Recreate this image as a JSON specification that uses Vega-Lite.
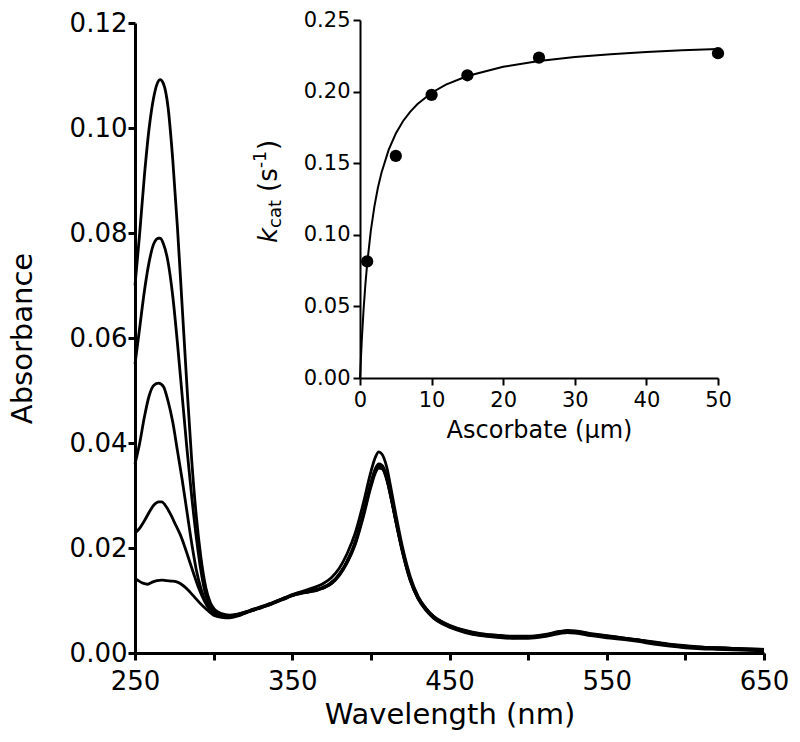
{
"$schema": "https://vega.github.io/schema/vega-lite/v6.json",
"autosize": "none",
"width": 629,
"height": 630,
"padding": {"left": 135, "top": 23, "right": 36, "bottom": 89},
"background": "white",
"config": {
  "view": {"stroke": null},
  "font": "DejaVu Sans",
  "axis": {"grid": false, "domainColor": "black", "tickColor": "black", "labelColor": "black", "titleColor": "black", "titleFontWeight": "normal", "labelFont": "DejaVu Sans", "titleFont": "DejaVu Sans", "labelFlush": false, "labelOverlap": false}
},
"datasets": {
  "spectra": [
    {"s":1,"w":250,"a":0.070},{"s":1,"w":253,"a":0.080},{"s":1,"w":256,"a":0.091},{"s":1,"w":259,"a":0.100},{"s":1,"w":262,"a":0.106},{"s":1,"w":265,"a":0.109},{"s":1,"w":266,"a":0.1092},{"s":1,"w":268,"a":0.1085},{"s":1,"w":271,"a":0.104},{"s":1,"w":274,"a":0.094},{"s":1,"w":277,"a":0.081},{"s":1,"w":280,"a":0.066},{"s":1,"w":283,"a":0.051},{"s":1,"w":286,"a":0.037},{"s":1,"w":289,"a":0.026},{"s":1,"w":292,"a":0.018},{"s":1,"w":295,"a":0.0125},{"s":1,"w":298,"a":0.0095},{"s":1,"w":301,"a":0.0082},{"s":1,"w":305,"a":0.0075},{"s":1,"w":310,"a":0.0072},{"s":1,"w":315,"a":0.0074},
    {"s":1,"w":320,"a":0.0078},{"s":1,"w":325,"a":0.0083},{"s":1,"w":330,"a":0.0088},{"s":1,"w":335,"a":0.0093},{"s":1,"w":340,"a":0.0099},{"s":1,"w":345,"a":0.0105},{"s":1,"w":350,"a":0.0111},{"s":1,"w":355,"a":0.0116},{"s":1,"w":360,"a":0.0121},{"s":1,"w":365,"a":0.0126},{"s":1,"w":370,"a":0.0133},{"s":1,"w":375,"a":0.0144},{"s":1,"w":380,"a":0.0162},{"s":1,"w":385,"a":0.0190},{"s":1,"w":390,"a":0.0228},{"s":1,"w":395,"a":0.0283},{"s":1,"w":400,"a":0.0345},{"s":1,"w":403,"a":0.0374},{"s":1,"w":405,"a":0.0383},{"s":1,"w":407,"a":0.0379},{"s":1,"w":410,"a":0.0355},{"s":1,"w":413,"a":0.0310},{"s":1,"w":416,"a":0.0262},{"s":1,"w":420,"a":0.0203},{"s":1,"w":425,"a":0.0146},{"s":1,"w":430,"a":0.0108},{"s":1,"w":435,"a":0.0085},{"s":1,"w":440,"a":0.0069},{"s":1,"w":445,"a":0.0059},{"s":1,"w":450,"a":0.0052},{"s":1,"w":460,"a":0.0042},{"s":1,"w":470,"a":0.0036},{"s":1,"w":480,"a":0.0033},{"s":1,"w":490,"a":0.0031},{"s":1,"w":500,"a":0.0031},{"s":1,"w":510,"a":0.0034},{"s":1,"w":520,"a":0.0040},{"s":1,"w":525,"a":0.0042},{"s":1,"w":530,"a":0.0041},{"s":1,"w":540,"a":0.0036},{"s":1,"w":550,"a":0.0032},{"s":1,"w":560,"a":0.0029},{"s":1,"w":570,"a":0.0025},{"s":1,"w":580,"a":0.0020},{"s":1,"w":590,"a":0.0016},{"s":1,"w":600,"a":0.0013},{"s":1,"w":610,"a":0.0011},{"s":1,"w":620,"a":0.0010},{"s":1,"w":630,"a":0.0009},{"s":1,"w":640,"a":0.0008},{"s":1,"w":650,"a":0.0007},

    {"s":2,"w":250,"a":0.055},{"s":2,"w":253,"a":0.062},{"s":2,"w":256,"a":0.069},{"s":2,"w":259,"a":0.0745},{"s":2,"w":262,"a":0.078},{"s":2,"w":265,"a":0.079},{"s":2,"w":266,"a":0.079},{"s":2,"w":268,"a":0.078},{"s":2,"w":271,"a":0.0745},{"s":2,"w":274,"a":0.068},{"s":2,"w":277,"a":0.059},{"s":2,"w":280,"a":0.049},{"s":2,"w":283,"a":0.039},{"s":2,"w":286,"a":0.030},{"s":2,"w":289,"a":0.022},{"s":2,"w":292,"a":0.0155},{"s":2,"w":295,"a":0.011},{"s":2,"w":298,"a":0.0088},{"s":2,"w":301,"a":0.0078},{"s":2,"w":305,"a":0.0073},{"s":2,"w":310,"a":0.0071},{"s":2,"w":315,"a":0.0073},
    {"s":2,"w":320,"a":0.0078},{"s":2,"w":325,"a":0.0081},{"s":2,"w":330,"a":0.0088},{"s":2,"w":335,"a":0.0091},{"s":2,"w":340,"a":0.0099},{"s":2,"w":345,"a":0.0103},{"s":2,"w":350,"a":0.0111},{"s":2,"w":355,"a":0.0113},{"s":2,"w":360,"a":0.0118},{"s":2,"w":365,"a":0.0119},{"s":2,"w":370,"a":0.0126},{"s":2,"w":375,"a":0.0133},{"s":2,"w":380,"a":0.0151},{"s":2,"w":385,"a":0.0174},{"s":2,"w":390,"a":0.0211},{"s":2,"w":395,"a":0.0261},{"s":2,"w":400,"a":0.0324},{"s":2,"w":403,"a":0.0352},{"s":2,"w":405,"a":0.0360},{"s":2,"w":407,"a":0.0358},{"s":2,"w":410,"a":0.0337},{"s":2,"w":413,"a":0.0297},{"s":2,"w":416,"a":0.0252},{"s":2,"w":420,"a":0.0197},{"s":2,"w":425,"a":0.0142},{"s":2,"w":430,"a":0.0107},{"s":2,"w":435,"a":0.0085},{"s":2,"w":440,"a":0.0070},{"s":2,"w":445,"a":0.0060},{"s":2,"w":450,"a":0.0053},{"s":2,"w":460,"a":0.0043},{"s":2,"w":470,"a":0.0037},{"s":2,"w":480,"a":0.0034},{"s":2,"w":490,"a":0.0032},{"s":2,"w":500,"a":0.0032},{"s":2,"w":510,"a":0.0035},{"s":2,"w":520,"a":0.0041},{"s":2,"w":525,"a":0.0043},{"s":2,"w":530,"a":0.0042},{"s":2,"w":540,"a":0.0037},{"s":2,"w":550,"a":0.0033},{"s":2,"w":560,"a":0.0029},{"s":2,"w":570,"a":0.0025},{"s":2,"w":580,"a":0.0021},{"s":2,"w":590,"a":0.0017},{"s":2,"w":600,"a":0.0014},{"s":2,"w":610,"a":0.0011},{"s":2,"w":620,"a":0.0010},{"s":2,"w":630,"a":0.0009},{"s":2,"w":640,"a":0.0008},{"s":2,"w":650,"a":0.0007},

    {"s":3,"w":250,"a":0.036},{"s":3,"w":253,"a":0.040},{"s":3,"w":256,"a":0.045},{"s":3,"w":259,"a":0.049},{"s":3,"w":262,"a":0.051},{"s":3,"w":265,"a":0.0514},{"s":3,"w":268,"a":0.0508},{"s":3,"w":271,"a":0.048},{"s":3,"w":274,"a":0.044},{"s":3,"w":277,"a":0.0385},{"s":3,"w":280,"a":0.033},{"s":3,"w":283,"a":0.027},{"s":3,"w":286,"a":0.021},{"s":3,"w":289,"a":0.0158},{"s":3,"w":292,"a":0.0122},{"s":3,"w":295,"a":0.0097},{"s":3,"w":298,"a":0.0083},{"s":3,"w":301,"a":0.0075},{"s":3,"w":305,"a":0.0071},{"s":3,"w":310,"a":0.0070},{"s":3,"w":315,"a":0.0072},
    {"s":3,"w":320,"a":0.0077},{"s":3,"w":325,"a":0.0082},{"s":3,"w":330,"a":0.0087},{"s":3,"w":335,"a":0.0092},{"s":3,"w":340,"a":0.0098},{"s":3,"w":345,"a":0.0104},{"s":3,"w":350,"a":0.0110},{"s":3,"w":355,"a":0.0114},{"s":3,"w":360,"a":0.0117},{"s":3,"w":365,"a":0.0120},{"s":3,"w":370,"a":0.0125},{"s":3,"w":375,"a":0.0134},{"s":3,"w":380,"a":0.0150},{"s":3,"w":385,"a":0.0175},{"s":3,"w":390,"a":0.0210},{"s":3,"w":395,"a":0.0262},{"s":3,"w":400,"a":0.0322},{"s":3,"w":403,"a":0.0350},{"s":3,"w":405,"a":0.0358},{"s":3,"w":407,"a":0.0356},{"s":3,"w":410,"a":0.0335},{"s":3,"w":413,"a":0.0295},{"s":3,"w":416,"a":0.0250},{"s":3,"w":420,"a":0.0195},{"s":3,"w":425,"a":0.0140},{"s":3,"w":430,"a":0.0105},{"s":3,"w":435,"a":0.0083},{"s":3,"w":440,"a":0.0068},{"s":3,"w":445,"a":0.0058},{"s":3,"w":450,"a":0.0051},{"s":3,"w":460,"a":0.0041},{"s":3,"w":470,"a":0.0035},{"s":3,"w":480,"a":0.0032},{"s":3,"w":490,"a":0.0030},{"s":3,"w":500,"a":0.0030},{"s":3,"w":510,"a":0.0033},{"s":3,"w":520,"a":0.0039},{"s":3,"w":525,"a":0.0041},{"s":3,"w":530,"a":0.0040},{"s":3,"w":540,"a":0.0035},{"s":3,"w":550,"a":0.0031},{"s":3,"w":560,"a":0.0028},{"s":3,"w":570,"a":0.0024},{"s":3,"w":580,"a":0.0019},{"s":3,"w":590,"a":0.0015},{"s":3,"w":600,"a":0.0012},{"s":3,"w":610,"a":0.0010},{"s":3,"w":620,"a":0.0009},{"s":3,"w":630,"a":0.0008},{"s":3,"w":640,"a":0.0007},{"s":3,"w":650,"a":0.0006},

    {"s":4,"w":250,"a":0.0228},{"s":4,"w":253,"a":0.0238},{"s":4,"w":256,"a":0.0252},{"s":4,"w":259,"a":0.0268},{"s":4,"w":262,"a":0.0282},{"s":4,"w":265,"a":0.0288},{"s":4,"w":267,"a":0.0288},{"s":4,"w":270,"a":0.0278},{"s":4,"w":273,"a":0.0262},{"s":4,"w":276,"a":0.0243},{"s":4,"w":279,"a":0.0224},{"s":4,"w":282,"a":0.0199},{"s":4,"w":285,"a":0.0172},{"s":4,"w":288,"a":0.0145},{"s":4,"w":291,"a":0.0120},{"s":4,"w":294,"a":0.0100},{"s":4,"w":297,"a":0.0085},{"s":4,"w":300,"a":0.0076},{"s":4,"w":305,"a":0.0070},{"s":4,"w":310,"a":0.0069},{"s":4,"w":315,"a":0.0071},
    {"s":4,"w":320,"a":0.0076},{"s":4,"w":325,"a":0.0081},{"s":4,"w":330,"a":0.0086},{"s":4,"w":335,"a":0.0091},{"s":4,"w":340,"a":0.0097},{"s":4,"w":345,"a":0.0103},{"s":4,"w":350,"a":0.0109},{"s":4,"w":355,"a":0.0113},{"s":4,"w":360,"a":0.0116},{"s":4,"w":365,"a":0.0119},{"s":4,"w":370,"a":0.0124},{"s":4,"w":375,"a":0.0132},{"s":4,"w":380,"a":0.0148},{"s":4,"w":385,"a":0.0172},{"s":4,"w":390,"a":0.0206},{"s":4,"w":395,"a":0.0257},{"s":4,"w":400,"a":0.0316},{"s":4,"w":403,"a":0.0344},{"s":4,"w":405,"a":0.0352},{"s":4,"w":407,"a":0.0351},{"s":4,"w":410,"a":0.0331},{"s":4,"w":413,"a":0.0292},{"s":4,"w":416,"a":0.0248},{"s":4,"w":420,"a":0.0193},{"s":4,"w":425,"a":0.0138},{"s":4,"w":430,"a":0.0103},{"s":4,"w":435,"a":0.0081},{"s":4,"w":440,"a":0.0066},{"s":4,"w":445,"a":0.0056},{"s":4,"w":450,"a":0.0049},{"s":4,"w":460,"a":0.0039},{"s":4,"w":470,"a":0.0033},{"s":4,"w":480,"a":0.0030},{"s":4,"w":490,"a":0.0028},{"s":4,"w":500,"a":0.0028},{"s":4,"w":510,"a":0.0031},{"s":4,"w":520,"a":0.0037},{"s":4,"w":525,"a":0.0039},{"s":4,"w":530,"a":0.0038},{"s":4,"w":540,"a":0.0033},{"s":4,"w":550,"a":0.0029},{"s":4,"w":560,"a":0.0026},{"s":4,"w":570,"a":0.0022},{"s":4,"w":580,"a":0.0017},{"s":4,"w":590,"a":0.0013},{"s":4,"w":600,"a":0.0010},{"s":4,"w":610,"a":0.0008},{"s":4,"w":620,"a":0.0007},{"s":4,"w":630,"a":0.0006},{"s":4,"w":640,"a":0.0005},{"s":4,"w":650,"a":0.0004},

    {"s":5,"w":250,"a":0.0142},{"s":5,"w":252,"a":0.0138},{"s":5,"w":255,"a":0.0133},{"s":5,"w":258,"a":0.0131},{"s":5,"w":261,"a":0.0135},{"s":5,"w":264,"a":0.0138},{"s":5,"w":267,"a":0.0139},{"s":5,"w":270,"a":0.0138},{"s":5,"w":273,"a":0.0137},{"s":5,"w":276,"a":0.0136},{"s":5,"w":279,"a":0.0132},{"s":5,"w":282,"a":0.0125},{"s":5,"w":285,"a":0.0116},{"s":5,"w":288,"a":0.0106},{"s":5,"w":291,"a":0.0096},{"s":5,"w":294,"a":0.0087},{"s":5,"w":297,"a":0.0079},{"s":5,"w":300,"a":0.0072},{"s":5,"w":305,"a":0.0068},{"s":5,"w":310,"a":0.0067},{"s":5,"w":315,"a":0.0070},
    {"s":5,"w":320,"a":0.0076},{"s":5,"w":325,"a":0.0083},{"s":5,"w":330,"a":0.0086},{"s":5,"w":335,"a":0.0093},{"s":5,"w":340,"a":0.0097},{"s":5,"w":345,"a":0.0105},{"s":5,"w":350,"a":0.0109},{"s":5,"w":355,"a":0.0115},{"s":5,"w":360,"a":0.0116},{"s":5,"w":365,"a":0.0121},{"s":5,"w":370,"a":0.0124},{"s":5,"w":375,"a":0.0135},{"s":5,"w":380,"a":0.0149},{"s":5,"w":385,"a":0.0176},{"s":5,"w":390,"a":0.0209},{"s":5,"w":395,"a":0.0263},{"s":5,"w":400,"a":0.0320},{"s":5,"w":403,"a":0.0348},{"s":5,"w":405,"a":0.0356},{"s":5,"w":407,"a":0.0354},{"s":5,"w":410,"a":0.0333},{"s":5,"w":413,"a":0.0294},{"s":5,"w":416,"a":0.0251},{"s":5,"w":420,"a":0.0196},{"s":5,"w":425,"a":0.0141},{"s":5,"w":430,"a":0.0104},{"s":5,"w":435,"a":0.0084},{"s":5,"w":440,"a":0.0067},{"s":5,"w":445,"a":0.0059},{"s":5,"w":450,"a":0.0050},{"s":5,"w":460,"a":0.0042},{"s":5,"w":470,"a":0.0034},{"s":5,"w":480,"a":0.0033},{"s":5,"w":490,"a":0.0029},{"s":5,"w":500,"a":0.0031},{"s":5,"w":510,"a":0.0032},{"s":5,"w":520,"a":0.0040},{"s":5,"w":525,"a":0.0040},{"s":5,"w":530,"a":0.0041},{"s":5,"w":540,"a":0.0034},{"s":5,"w":550,"a":0.0032},{"s":5,"w":560,"a":0.0027},{"s":5,"w":570,"a":0.0025},{"s":5,"w":580,"a":0.0018},{"s":5,"w":590,"a":0.0016},{"s":5,"w":600,"a":0.0011},{"s":5,"w":610,"a":0.0011},{"s":5,"w":620,"a":0.0008},{"s":5,"w":630,"a":0.0009},{"s":5,"w":640,"a":0.0006},{"s":5,"w":650,"a":0.0007}
  ],
  "kinetics": [
    {"S":1,"v":0.0814},{"S":5,"v":0.1551},{"S":10,"v":0.1977},{"S":15,"v":0.2114},{"S":25,"v":0.2237},{"S":50,"v":0.2268}
  ],
  "fit": [
    {"S":0,"v":0},{"S":0.25,"v":0.0266},{"S":0.5,"v":0.0478},{"S":0.75,"v":0.0652},{"S":1,"v":0.0797},{"S":1.5,"v":0.1024},{"S":2,"v":0.1195},{"S":2.5,"v":0.1328},{"S":3,"v":0.1434},{"S":4,"v":0.1593},{"S":5,"v":0.1707},{"S":6,"v":0.1793},{"S":7,"v":0.1859},{"S":8,"v":0.1912},{"S":10,"v":0.1992},{"S":12,"v":0.2049},{"S":15,"v":0.2109},{"S":20,"v":0.2173},{"S":25,"v":0.2213},{"S":30,"v":0.2241},{"S":35,"v":0.2261},{"S":40,"v":0.2276},{"S":45,"v":0.2288},{"S":50,"v":0.2298}
  ],
  "one": [{"k": 1}]
},
"layer": [
  {
    "data": {"name": "spectra"},
    "mark": {"type": "line", "color": "black", "strokeWidth": 2.8, "interpolate": "monotone"},
    "encoding": {
      "x": {"field": "w", "type": "quantitative",
        "scale": {"domain": [250, 650], "nice": false, "zero": false},
        "axis": {"orient": "bottom", "values": [250, 300, 350, 400, 450, 500, 550, 600, 650],
          "labelExpr": "datum.value % 100 == 50 ? datum.label : ''",
          "title": "Wavelength (nm)", "titleFontSize": 29, "titlePadding": 6,
          "labelFontSize": 26, "labelPadding": 8, "tickSize": 7, "tickWidth": 3, "domainWidth": 3}},
      "y": {"field": "a", "type": "quantitative",
        "scale": {"domain": [0, 0.12], "nice": false},
        "axis": {"orient": "left", "values": [0, 0.02, 0.04, 0.06, 0.08, 0.1, 0.12], "format": ".2f",
          "title": "Absorbance", "titleFontSize": 29, "titlePadding": 32,
          "labelFontSize": 26, "labelPadding": 1, "tickSize": 7, "tickWidth": 3, "domainWidth": 3}},
      "detail": {"field": "s", "type": "nominal"}
    }
  },
  {
    "data": {"name": "fit"},
    "mark": {"type": "line", "color": "black", "strokeWidth": 2},
    "encoding": {
      "x": {"field": "S", "type": "quantitative",
        "scale": {"domain": [0, 50], "range": [225, 583], "nice": false},
        "axis": {"orient": "bottom", "offset": -275, "zindex": 2, "values": [0, 10, 20, 30, 40, 50],
          "title": "Ascorbate (μm)", "titleFontSize": 24, "titlePadding": 8,
          "labelFontSize": 21, "labelPadding": 4, "tickSize": 7, "tickWidth": 2, "domainWidth": 2}},
      "y": {"field": "v", "type": "quantitative",
        "scale": {"domain": [0, 0.25], "range": [355, -3], "nice": false},
        "axis": {"orient": "left", "offset": -225, "zindex": 2, "values": [0, 0.05, 0.1, 0.15, 0.2, 0.25], "format": ".2f",
          "title": null,
          "labelFontSize": 21, "labelPadding": 3, "tickSize": 7, "tickWidth": 2, "domainWidth": 2}}
    }
  },
  {
    "data": {"name": "kinetics"},
    "mark": {"type": "point", "filled": true, "color": "black", "opacity": 1, "size": 150},
    "encoding": {
      "x": {"field": "S", "type": "quantitative", "scale": {"domain": [0, 50], "range": [225, 583], "nice": false}, "axis": null},
      "y": {"field": "v", "type": "quantitative", "scale": {"domain": [0, 0.25], "range": [355, -3], "nice": false}, "axis": null}
    }
  },
  {
    "data": {"name": "one"},
    "mark": {"type": "text", "text": "k", "fontStyle": "italic", "fontSize": 26, "angle": 270, "align": "left", "baseline": "alphabetic", "color": "black", "dx": 0, "dy": 0},
    "encoding": {"x": {"datum": -11.6, "type": "quantitative", "scale": {"domain": [0, 50], "range": [225, 583], "nice": false}, "axis": null}, "y": {"datum": 0.0943, "type": "quantitative", "scale": {"domain": [0, 0.25], "range": [355, -3], "nice": false}, "axis": null}}
  },
  {
    "data": {"name": "one"},
    "mark": {"type": "text", "text": "cat", "fontSize": 18, "angle": 270, "align": "left", "baseline": "alphabetic", "color": "black", "dx": 15, "dy": 4},
    "encoding": {"x": {"datum": -11.6, "type": "quantitative", "scale": {"domain": [0, 50], "range": [225, 583], "nice": false}, "axis": null}, "y": {"datum": 0.0943, "type": "quantitative", "scale": {"domain": [0, 0.25], "range": [355, -3], "nice": false}, "axis": null}}
  },
  {
    "data": {"name": "one"},
    "mark": {"type": "text", "text": "(s", "fontSize": 26, "angle": 270, "align": "left", "baseline": "alphabetic", "color": "black", "dx": 51, "dy": 0},
    "encoding": {"x": {"datum": -11.6, "type": "quantitative", "scale": {"domain": [0, 50], "range": [225, 583], "nice": false}, "axis": null}, "y": {"datum": 0.0943, "type": "quantitative", "scale": {"domain": [0, 0.25], "range": [355, -3], "nice": false}, "axis": null}}
  },
  {
    "data": {"name": "one"},
    "mark": {"type": "text", "text": "-1", "fontSize": 17, "angle": 270, "align": "left", "baseline": "alphabetic", "color": "black", "dx": 75, "dy": -11},
    "encoding": {"x": {"datum": -11.6, "type": "quantitative", "scale": {"domain": [0, 50], "range": [225, 583], "nice": false}, "axis": null}, "y": {"datum": 0.0943, "type": "quantitative", "scale": {"domain": [0, 0.25], "range": [355, -3], "nice": false}, "axis": null}}
  },
  {
    "data": {"name": "one"},
    "mark": {"type": "text", "text": ")", "fontSize": 26, "angle": 270, "align": "left", "baseline": "alphabetic", "color": "black", "dx": 93, "dy": 0},
    "encoding": {"x": {"datum": -11.6, "type": "quantitative", "scale": {"domain": [0, 50], "range": [225, 583], "nice": false}, "axis": null}, "y": {"datum": 0.0943, "type": "quantitative", "scale": {"domain": [0, 0.25], "range": [355, -3], "nice": false}, "axis": null}}
  }
],
"resolve": {"scale": {"x": "independent", "y": "independent"}, "axis": {"x": "independent", "y": "independent"}}
}
